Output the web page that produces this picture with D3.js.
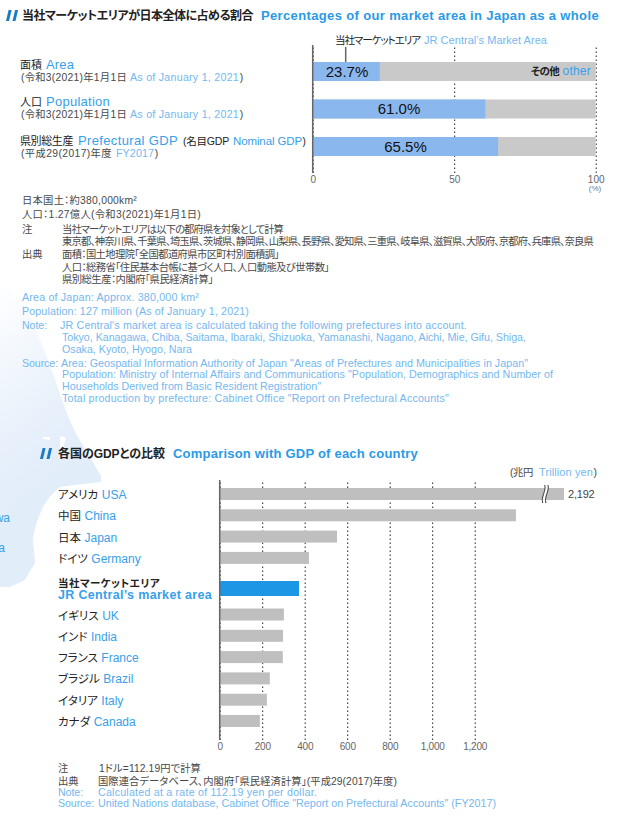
<!DOCTYPE html>
<html><head><meta charset="utf-8">
<script src="https://d3js.org/d3.v7.min.js"></script>
<style>
html,body{margin:0;padding:0;background:#fff}
svg{display:block}
text{font-family:"Liberation Sans","Noto Sans CJK JP",sans-serif;font-feature-settings:"palt"}
</style></head><body><svg id="c" width="618" height="822"></svg>
<script>
// ---- Data: share of Japan
const shareJa = ["面積","人口","県別総生産"];
const shareEn = ["Area","Population","Prefectural GDP"];
const shareValues = [23.7,61.0,65.5];
const shareTicks = [0,50,100];
// ---- Data: GDP comparison
const countryJa = ["アメリカ","中国","日本","ドイツ","当社マーケットエリア","イギリス","インド","フランス","ブラジル","イタリア","カナダ"];
const countryEn = ["USA","China","Japan","Germany","JR Central’s market area","UK","India","France","Brazil","Italy","Canada"];
const gdpValues = [2192,1394,552,420,373,302,298,297,236,222,189];
const gdpTicks = [0,200,400,600,800,1000,1200];
const highlight = "JR Central’s market area";

const DARK="#222", GREY="#484848", BLUE="#38a0ea", LIGHT="#74b8ef", TITLE="#2a9ae6";
const LS=10.7, JS=10.3; // Latin and Japanese note sizes
const svg=d3.select("#c");
const defs=svg.append("defs");
const grad=defs.append("linearGradient").attr("id","fade").attr("x1",0).attr("y1",0).attr("x2",0.25).attr("y2",1);
grad.append("stop").attr("offset",0).attr("stop-color","#e2edfa").attr("stop-opacity",0);
grad.append("stop").attr("offset",.55).attr("stop-color","#e2edfa").attr("stop-opacity",.85);
grad.append("stop").attr("offset",.75).attr("stop-color","#e2edfa").attr("stop-opacity",1);

// pale map backdrop
svg.append("path").attr("fill","url(#fade)")
 .attr("d","M0,280 L22,300 C40,335 54,375 62,400 C68,418 76,435 84,447 L101,476 L101,482 C85,484 72,485 60,487 C50,495 46,502 43,507 C37,520 34,530 33,540 L35,563 L25,580 L10,587 L0,587 Z");
svg.append("path").attr("fill","#fff").attr("d","M43,437 L50,437 L50,440 L43,439 Z M60,436 L66,438 L62,452 L60,450 Z");

// text line: [text,colour,weight]; an optional target right edge fits the tracking.
function line(x,y,seg,size,right){
  const t=svg.append("text").attr("x",x).attr("y",y).attr("font-size",size)
    .attr("fill",seg[1]).attr("font-weight",seg[2]||400).text(seg[0]);
  if(right){
    const n=t.node().getNumberOfChars();
    const w=t.node().getEndPositionOfChar(n-1).x-x;
    t.attr("letter-spacing",((right-x-w)/n).toFixed(3));
  }
  return t;
}
function slashes(x,y){
  [0,6.5].forEach(d=>svg.append("path").attr("fill","#1b7cc4")
    .attr("d",`M${x+d+2.6},${y} h3 l-2.6,11 h-3 z`));
}

// ---- Titles
slashes(6,10);
line(22,20,["当社マーケットエリアが日本全体に占める割合",DARK,700],12,253);
line(261,20,["Percentages of our market area in Japan as a whole",TITLE,700],13,599);
slashes(40,448);
line(58,458,["各国のGDPとの比較",DARK,700],12,165);
line(173,458,["Comparison with GDP of each country",TITLE,700],13,418);

// ---- Top chart
const x1=d3.scaleLinear().domain([0,100]).range([312.7,595.7]);
const y1=d3.scalePoint().domain(shareEn).range([71.5,146.5]);
const barH1=19;
const ax1=svg.append("g").attr("transform","translate(0,173)")
  .call(d3.axisBottom(x1).tickValues(shareTicks).tickSize(-128).tickPadding(3));
ax1.select(".domain").remove();
ax1.selectAll(".tick line").attr("stroke","#222").attr("stroke-dasharray","1.5 2.5").attr("stroke-width",1);
ax1.selectAll(".tick text").attr("fill","#666").attr("font-size",10).attr("font-family",null);
svg.append("g").selectAll("rect").data(shareEn).join("rect")
  .attr("x",x1(0)).attr("width",x1(100)-x1(0)).attr("y",d=>y1(d)-barH1/2).attr("height",barH1).attr("fill","#c9c9c9");
svg.append("g").selectAll("rect").data(shareValues).join("rect")
  .attr("x",x1(0)).attr("width",d=>x1(d)-x1(0)).attr("y",(d,i)=>y1(shareEn[i])-barH1/2).attr("height",barH1).attr("fill","#8ab8ee");
svg.append("line").attr("x1",x1(0)).attr("x2",x1(0)).attr("y1",45).attr("y2",173).attr("stroke","#666").attr("stroke-width",1.5);
svg.append("g").selectAll("text").data(shareValues).join("text")
  .attr("x",(d,i)=>i===0?347:i===1?399:405.5)
  .attr("y",(d,i)=>y1(shareEn[i])+5).attr("text-anchor","middle")
  .attr("font-size",15).attr("fill","#111").text(d=>d.toFixed(1)+"%");
svg.append("line").attr("x1",345.7).attr("x2",345.7).attr("y1",47).attr("y2",62).attr("stroke","#666").attr("stroke-width",1.5);
line(335,44,["当社マーケットエリア",DARK],10.5,420);
line(424,44,["JR Central’s Market Area",LIGHT],11,547);
line(531,75,["その他",DARK,700],10.5,559);
line(562.5,75,["other",BLUE],12,591);
svg.append("text").attr("x",595).attr("y",191).attr("text-anchor","middle").attr("font-size",8).attr("fill","#777").text("(%)");

function sub(y,ja,en,endJa,startEn,endEn,endAll){
  line(21,y,[ja,GREY],JS,endJa);
  line(startEn,y,[en,LIGHT],LS,endEn);
  line(endEn+.8,y,[")",GREY],JS,endAll);
}
line(20,69,[shareJa[0],DARK],11);
line(46,69,[shareEn[0],BLUE],13,74);
sub(81,"(令和3(2021)年1月1日","As of January 1, 2021",127,130,239,243);
line(20,106,[shareJa[1],DARK],11);
line(46,106,[shareEn[1],BLUE],13,110);
sub(118,"(令和3(2021)年1月1日","As of January 1, 2021",127,130,239,243);
line(20,145,[shareJa[2],DARK],11,73);
line(78,145,[shareEn[2],BLUE],13,178);
line(183,145,["(名目GDP",DARK],10.5,229);
line(233,145,["Nominal GDP",BLUE],11.5,302);
line(302.5,145,[")",DARK],10,305);
sub(157,"(平成29(2017)年度","FY2017",112,116,154,158);

// ---- Notes
line(22,204,["日本国土：約380,000km²",GREY],JS,137);
line(22,218,["人口：1.27億人(令和3(2021)年1月1日)",GREY],JS,201);
line(22,233,["注",GREY],JS);
line(62,233,["当社マーケットエリアは以下の都府県を対象として計算",GREY],JS,283);
line(62,245,["東京都、神奈川県、千葉県、埼玉県、茨城県、静岡県、山梨県、長野県、愛知県、三重県、岐阜県、滋賀県、大阪府、京都府、兵庫県、奈良県",GREY],JS,593);
line(22,258,["出典",GREY],JS);
line(62,258,["面積：国土地理院「全国都道府県市区町村別面積調」",GREY],JS,279);
line(62,270.5,["人口：総務省「住民基本台帳に基づく人口、人口動態及び世帯数」",GREY],JS,329);
line(62,283,["県別総生産：内閣府「県民経済計算」",GREY],JS,213);
line(22,301,["Area of Japan: Approx. 380,000 km²",LIGHT],LS,199);
line(22,315,["Population: 127 million (As of January 1, 2021)",LIGHT],LS,249);
line(22,329,["Note:",LIGHT],LS,47);
line(60,329,["JR Central's market area is calculated taking the following prefectures into account.",LIGHT],LS,467);
line(62,341,["Tokyo, Kanagawa, Chiba, Saitama, Ibaraki, Shizuoka, Yamanashi, Nagano, Aichi, Mie, Gifu, Shiga,",LIGHT],LS,526);
line(62,353,["Osaka, Kyoto, Hyogo, Nara",LIGHT],LS,192);
line(22,367,["Source:",LIGHT],LS,58);
line(61,367,["Area: Geospatial Information Authority of Japan \"Areas of Prefectures and Municipalities in Japan\"",LIGHT],LS,528);
line(62,378,["Population: Ministry of Internal Affairs and Communications \"Population, Demographics and Number of",LIGHT],LS,553);
line(62,390,["Households Derived from Basic Resident Registration\"",LIGHT],LS,321);
line(62,402,["Total production by prefecture: Cabinet Office \"Report on Prefectural Accounts\"",LIGHT],LS,449);

// ---- Bottom chart
const x2=d3.scaleLinear().domain([0,1400,2192]).range([219.7,517.2,564]);
const yBase=d3.scalePoint().domain(countryEn).range([494,707]);
const y2=c=>{const i=countryEn.indexOf(c);return yBase(c)+(c===highlight?9.3:i>4?14:0);};
const ax2=svg.append("g").attr("transform","translate(0,740)")
  .call(d3.axisBottom(x2).tickValues(gdpTicks).tickSize(-260).tickPadding(3).tickFormat(d3.format(",")));
ax2.select(".domain").remove();
ax2.selectAll(".tick line").attr("stroke","#222").attr("stroke-dasharray","1.5 2.5").attr("stroke-width",1);
ax2.selectAll(".tick text").attr("fill","#666").attr("font-size",10).attr("font-family",null).attr("letter-spacing",-0.2);
svg.append("g").selectAll("rect").data(gdpValues).join("rect")
  .attr("x",x2(0)).attr("width",d=>x2(d)-x2(0))
  .attr("y",(d,i)=>y2(countryEn[i])-(countryEn[i]===highlight?7.5:6))
  .attr("height",(d,i)=>countryEn[i]===highlight?15:12)
  .attr("fill",(d,i)=>countryEn[i]===highlight?"#1e96e6":"#bfbfbf");
svg.append("line").attr("x1",x2(0)).attr("x2",x2(0)).attr("y1",480).attr("y2",740).attr("stroke","#666").attr("stroke-width",1.5);

countryEn.forEach((c,i)=>{
  const yy=y2(c);
  if(c===highlight){
    line(58,586.5,[countryJa[i],DARK,700],10.5,160);
    line(58,598.5,[c,BLUE,700],12.5,212);
  } else {
    const ja=line(58,yy+5,[countryJa[i],DARK],11.5);
    const end=ja.node().getEndPositionOfChar(countryJa[i].length-1).x;
    line(end+3.5,yy+5,[c,BLUE],12);
  }
});

// axis break on the first bar
const bx=x2(1840), by=y2(countryEn[0]);
const wav=o=>`M${bx+o+1.5},${by-9} C${bx+o+3.5},${by-4} ${bx+o-2.5},${by+3} ${bx+o-.5},${by+9}`;
svg.append("path").attr("d",wav(1.6)).attr("stroke","#fff").attr("stroke-width",3.2).attr("fill","none");
[0,3.2].forEach(o=>svg.append("path").attr("d",wav(o)).attr("stroke","#222").attr("stroke-width",.9).attr("fill","none"));
svg.append("text").attr("x",x2(gdpValues[0])+4).attr("y",by+4).attr("font-size",11).attr("fill","#444").attr("letter-spacing",-.2).text(d3.format(",")(gdpValues[0]));
line(510,476,["(兆円",GREY],JS,533);
line(539,476,["Trillion yen",LIGHT],11,593);
line(593.5,476,[")",GREY],JS,596);

line(58,772,["注",GREY],JS);
line(99,772,["1ドル=112.19円で計算",GREY],JS,201);
line(58,785,["出典",GREY],JS);
line(98,785,["国際連合データベース、内閣府「県民経済計算」(平成29(2017)年度)",GREY],JS,397);
line(58,796,["Note:",LIGHT],LS,83);
line(98,796,["Calculated at a rate of 112.19 yen per dollar.",LIGHT],LS,317);
line(58,807,["Source:",LIGHT],LS,94);
line(98,807,["United Nations database, Cabinet Office \"Report on Prefectural Accounts\" (FY2017)",LIGHT],LS,496);

// blue word fragments from the page behind
line(-5.3,522,["wa",BLUE],12);
line(-1.7,552,["a",BLUE],12);
</script></body></html>
